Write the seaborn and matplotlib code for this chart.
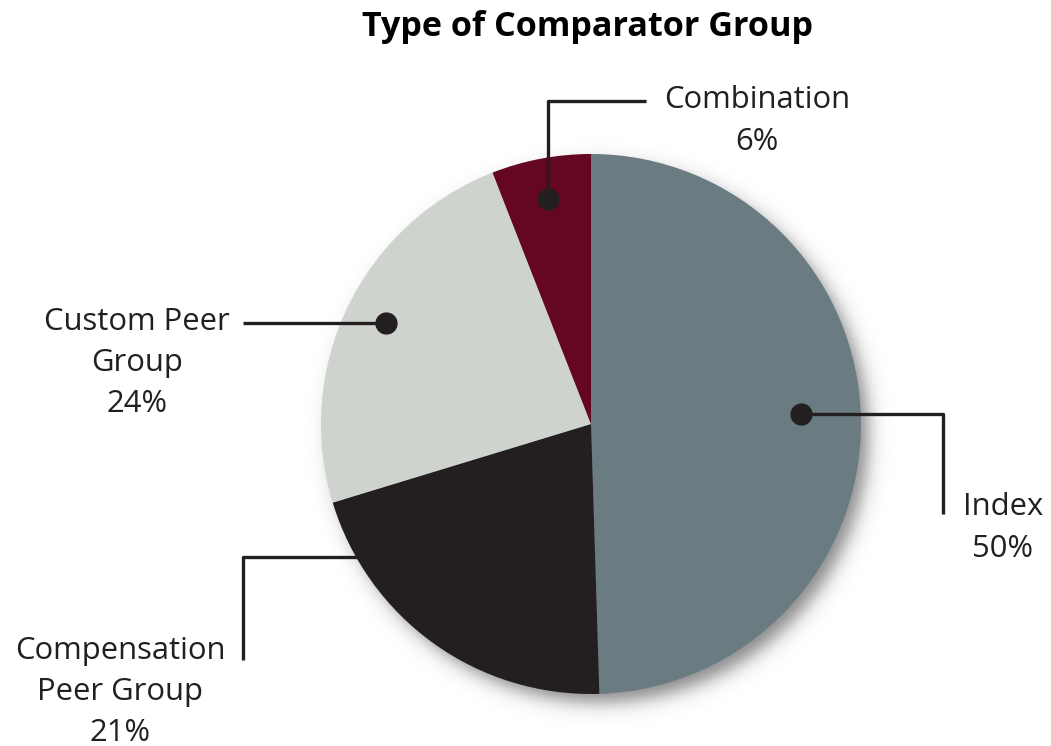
import numpy as np
import matplotlib
matplotlib.use("Agg")
import matplotlib.pyplot as plt
import seaborn as sns

W, H = 1051, 746

# data
categories = ["Index", "Compensation\nPeer Group", "Custom Peer\nGroup", "Combination"]
shares = [50, 21, 24, 6]
colors = ["#6a7c82", "#231f20", "#cfd3ce", "#650623"]
title = "Type of Comparator Group"

sns.set_theme(style="white")
plt.rcParams["font.family"] = ["Open Sans", "DejaVu Sans"]

fig = plt.figure(figsize=(W / 100, H / 100), dpi=100)
ax = fig.add_axes([0, 0, 1, 1])

cx, cy, R = 591, 424, 270


def Y(p):
    # pixel row -> data y
    return H - p


# soft drop shadow behind the pie
xx, yy = np.meshgrid(np.arange(W) + 0.5, np.arange(H) + 0.5)
d = np.hypot(xx - (cx + 9), yy - (cy + 10))
alpha = 0.6 / (1 + np.exp((d - R + 2) / 5.5))
shadow = np.zeros((H, W, 4))
shadow[..., :3] = 0.22
shadow[..., 3] = alpha
ax.imshow(shadow, extent=(0, W, 0, H), origin="upper", zorder=0, interpolation="bilinear")

ax.pie(shares, colors=colors, startangle=90, counterclock=False,
       center=(cx, Y(cy)), radius=R, wedgeprops=dict(linewidth=0, zorder=1))

lc = "#231f20"
lw = 2.4


def leader(pts, dot=None):
    xs = [p[0] for p in pts]
    ys = [Y(p[1]) for p in pts]
    ax.plot(xs, ys, color=lc, lw=lw, solid_capstyle="butt", zorder=3)
    if dot is not None:
        ax.plot(dot[0], Y(dot[1]), "o", color=lc, ms=15, zorder=4)


# Combination
leader([(548, 199), (548, 101), (646, 101)], dot=(548, 199))
# Custom Peer Group
leader([(386, 323), (243, 323)], dot=(386, 323))
# Index
leader([(801, 414), (943, 414), (943, 514)], dot=(801, 414))
# Compensation Peer Group
leader([(243, 660), (243, 557), (380, 557)])

fs = 22.3
tc = "#231f20"
labels = [
    (categories[3] + "\n" + f"{shares[3]}%", 757, 121),
    (categories[2] + "\n" + f"{shares[2]}%", 137, 363),
    (categories[0] + "\n" + f"{shares[0]}%", 1003, 528),
    (categories[1] + "\n" + f"{shares[1]}%", 120, 692),
]
for txt, x, y in labels:
    ax.text(x, Y(y), txt, ha="center", va="center", fontsize=fs, color=tc,
            linespacing=1.48, zorder=5)

ax.text(587, Y(27), title, ha="center", va="center", fontsize=24.6,
        fontweight="bold", color="#000000")

ax.set_xlim(0, W)
ax.set_ylim(0, H)
ax.set_aspect("equal")
ax.axis("off")

fig.savefig("out.png", dpi=100)
